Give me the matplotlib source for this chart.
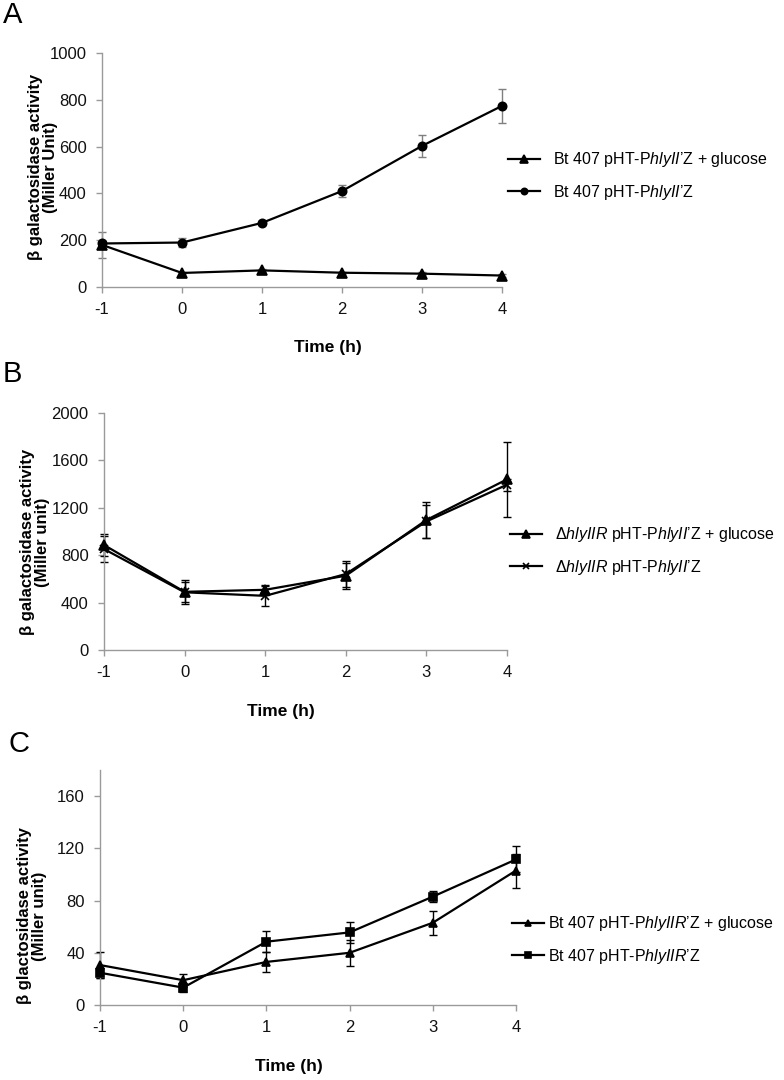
import matplotlib
matplotlib.use('Agg')
import matplotlib.pyplot as plt

plt.rcParams['font.family'] = ['Liberation Sans', 'DejaVu Sans']
plt.rcParams['axes.unicode_minus'] = False
plt.rcParams['mathtext.fontset'] = 'custom'
plt.rcParams['mathtext.rm'] = 'Liberation Sans'
plt.rcParams['mathtext.it'] = 'Liberation Sans:italic'
plt.rcParams['mathtext.bf'] = 'Liberation Sans:bold'

time_h = [-1, 0, 1, 2, 3, 4]

# Panel A
a_glc = [180, 60, 71, 61, 57, 49]
a_glc_err = [57, 6, 6, 5, 5, 6]
a_ctl = [186, 190, 274, 410, 603, 774]
a_ctl_err = [10, 20, 8, 24, 46, 73]

# Panel B
b_glc = [886, 491, 508, 627, 1097, 1440]
b_glc_err = [95, 100, 40, 110, 150, 315]
b_ctl = [852, 487, 457, 641, 1085, 1395]
b_ctl_err = [110, 85, 85, 110, 140, 50]

# Panel C
c_glc = [30.6, 19, 33, 40, 63, 103]
c_glc_err = [10, 5, 7.5, 10, 9, 13]
c_ctl = [24.7, 13.3, 48.5, 55.6, 83, 111.5]
c_ctl_err = [4, 3, 8, 8, 4, 10]

AXIS_GRAY = '#9a9a9a'

fig = plt.figure(figsize=(7.84, 10.8), dpi=100)


def style_axes(ax, ymax, yticks):
    ax.set_xlim(-1, 4)
    ax.set_ylim(0, ymax)
    ax.set_xticks(time_h)
    ax.set_yticks(yticks)
    for side in ('top', 'right'):
        ax.spines[side].set_visible(False)
    for side in ('left', 'bottom'):
        ax.spines[side].set_color(AXIS_GRAY)
        ax.spines[side].set_linewidth(1.0)
    ax.tick_params(direction='out', length=4, width=1.0, color=AXIS_GRAY,
                   labelsize=12, labelcolor='#111111', pad=7)


def panel(rect, letter, letter_xy, ymax, yticks, series, err_color, ylab,
          ylab_xy, xlab_x, legend_xy, textpad):
    ax = fig.add_axes(rect)
    style_axes(ax, ymax, yticks)
    handles = []
    for y, e, mk, ms, lab in series:
        ax.errorbar(time_h, y, yerr=e, fmt='none', ecolor=err_color,
                    elinewidth=1.0, capsize=3, capthick=1.0, clip_on=False, zorder=2)
        h, = ax.plot(time_h, y, color='black', lw=1.6, marker=mk, ms=ms,
                     mew=1.2, label=lab, clip_on=False, zorder=3)
        handles.append(h)
    ax.set_ylabel(ylab, fontsize=12, fontweight='bold', va='center',
                  multialignment='center', linespacing=1.0)
    ax.yaxis.set_label_coords(*ylab_xy)
    ax.text(xlab_x, -0.26, 'Time (h)', transform=ax.transAxes, ha='center',
            va='center', fontsize=12.5, fontweight='bold')
    fig.text(letter_xy[0], letter_xy[1], letter, fontsize=21, ha='left', va='center')
    ax.legend(handles=handles, loc='center left',
              bbox_to_anchor=legend_xy, bbox_transform=fig.transFigure,
              frameon=False, fontsize=11.5, handlelength=2.0, markerscale=0.75,
              handletextpad=textpad, labelspacing=0.85, borderaxespad=0,
              borderpad=0)
    return ax


panel([102 / 784, 1 - 287 / 1080, 400 / 784, 234 / 1080], 'A', (3 / 784, 1 - 15 / 1080),
      1000, range(0, 1001, 200),
      [(a_glc, a_glc_err, '^', 7, "Bt 407 pHT-P$\\mathit{hlyII}$’Z + glucose"),
       (a_ctl, a_ctl_err, 'o', 6, "Bt 407 pHT-P$\\mathit{hlyII}$’Z")],
      '#7f7f7f', 'β galactosidase activity\n(Miller Unit)', (-0.148, 0.513), 0.565,
      (508 / 784, 1 - 176 / 1080), 0.8)

panel([104 / 784, 1 - 650 / 1080, 403 / 784, 237 / 1080], 'B', (3 / 784, 1 - 374 / 1080),
      2000, range(0, 2001, 400),
      [(b_glc, b_glc_err, '^', 7, "Δ$\\mathit{hlyIIR}$ pHT-P$\\mathit{hlyII}$’Z + glucose"),
       (b_ctl, b_ctl_err, 'x', 6, "Δ$\\mathit{hlyIIR}$ pHT-P$\\mathit{hlyII}$’Z")],
      'black', 'β galactosidase activity\n(Miller unit)', (-0.172, 0.456), 0.44,
      (510 / 784, 1 - 551 / 1080), 0.8)

panel([100 / 784, 1 - 1005 / 1080, 416 / 784, 235 / 1080], 'C', (8 / 784, 1 - 744 / 1080),
      180, range(0, 161, 40),
      [(c_glc, c_glc_err, '^', 6, "Bt 407 pHT-P$\\mathit{hlyIIR}$’Z + glucose"),
       (c_ctl, c_ctl_err, 's', 6, "Bt 407 pHT-P$\\mathit{hlyIIR}$’Z")],
      'black', 'β glactosidase activity\n(Miller unit)', (-0.163, 0.379), 0.455,
      (512 / 784, 1 - 940 / 1080), 0.25)

fig.savefig('out.png', dpi=100)
